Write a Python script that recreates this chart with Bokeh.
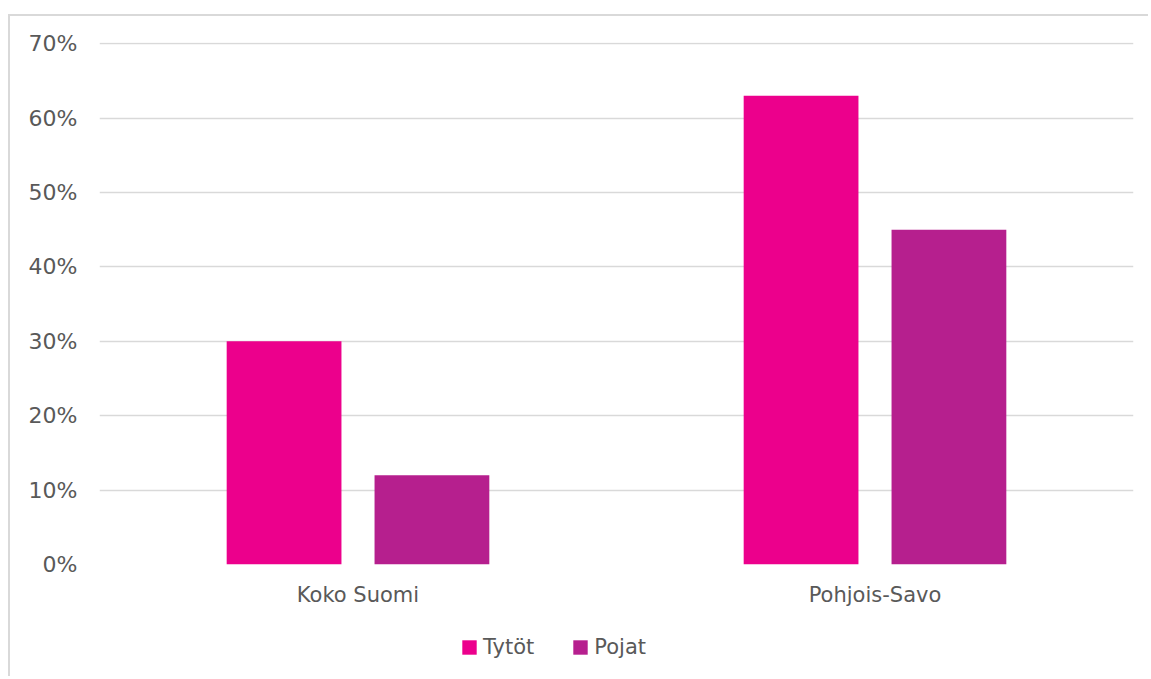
from bokeh.plotting import figure
from bokeh.models import ColumnDataSource, FixedTicker, NumeralTickFormatter, Legend, LegendItem, Spacer
from bokeh.layouts import column, row
from bokeh.transform import dodge
from bokeh.embed import file_html
from bokeh.resources import INLINE

categories = ["Koko Suomi", "Pohjois-Savo"]
series_names = ["Tytöt", "Pojat"]
tytot = [0.30, 0.63]
pojat = [0.12, 0.45]
y_ticks = [0, 0.1, 0.2, 0.3, 0.4, 0.5, 0.6, 0.7]

colors = ["#EC008C", "#B61F8E"]
text_color = "#595959"
font = "DejaVu Sans"

source = ColumnDataSource(data=dict(cat=categories, tytot=tytot, pojat=pojat))

p = figure(x_range=categories, y_range=(0, 0.7015), width=1138, height=608,
           output_backend="svg", toolbar_location=None,
           min_border_left=89, min_border_right=15, min_border_top=26, min_border_bottom=60)
p.x_range.range_padding = 0

p.vbar(x=dodge("cat", -0.143, range=p.x_range), top="tytot", width=0.222,
       source=source, color=colors[0], line_color=None)
p.vbar(x=dodge("cat", 0.143, range=p.x_range), top="pojat", width=0.222,
       source=source, color=colors[1], line_color=None)

p.outline_line_color = None
p.xgrid.grid_line_color = None
p.ygrid.grid_line_color = "#d9d9d9"
p.ygrid.grid_line_width = 1.5

p.yaxis.ticker = FixedTicker(ticks=y_ticks)
p.yaxis.formatter = NumeralTickFormatter(format="0%")
for ax in (p.xaxis[0], p.yaxis[0]):
    ax.axis_line_color = None
    ax.major_tick_line_color = None
    ax.minor_tick_line_color = None
    ax.major_label_text_color = text_color
    ax.major_label_text_font = font
p.yaxis.major_label_text_font_size = "22px"
p.xaxis.major_label_text_font_size = "21px"
p.yaxis.major_label_standoff = 16
p.xaxis.major_label_standoff = 12

# legend strip below the chart
lf = figure(width=1138, height=52, output_backend="svg", toolbar_location=None,
            x_axis_type=None, y_axis_type=None, min_border=0,
            x_range=(0, 1), y_range=(0, 1))
lf.outline_line_color = None
lf.xgrid.grid_line_color = None
lf.ygrid.grid_line_color = None
dummy = ColumnDataSource(data=dict(x=[-10], top=[0]))
l1 = lf.vbar(x="x", top="top", width=0.1, source=dummy, color=colors[0], line_color=None)
l2 = lf.vbar(x="x", top="top", width=0.1, source=dummy, color=colors[1], line_color=None)
legend = Legend(items=[LegendItem(label=series_names[0], renderers=[l1]),
                       LegendItem(label=series_names[1], renderers=[l2])],
                orientation="horizontal", location=(361, 17),
                label_text_font=font, label_text_font_size="21px",
                label_text_color=text_color, glyph_width=18, glyph_height=18,
                spacing=37, label_standoff=5, padding=0, margin=0,
                border_line_color=None, background_fill_alpha=0)
lf.add_layout(legend, "center")

inner = column(p, lf, styles={"border-left": "2px solid #d9d9d9",
                              "border-top": "2px solid #d9d9d9"})
layout = column(Spacer(height=14, width=10), row(Spacer(width=8, height=10), inner))

open("out.html", "w").write(file_html(layout, INLINE))
